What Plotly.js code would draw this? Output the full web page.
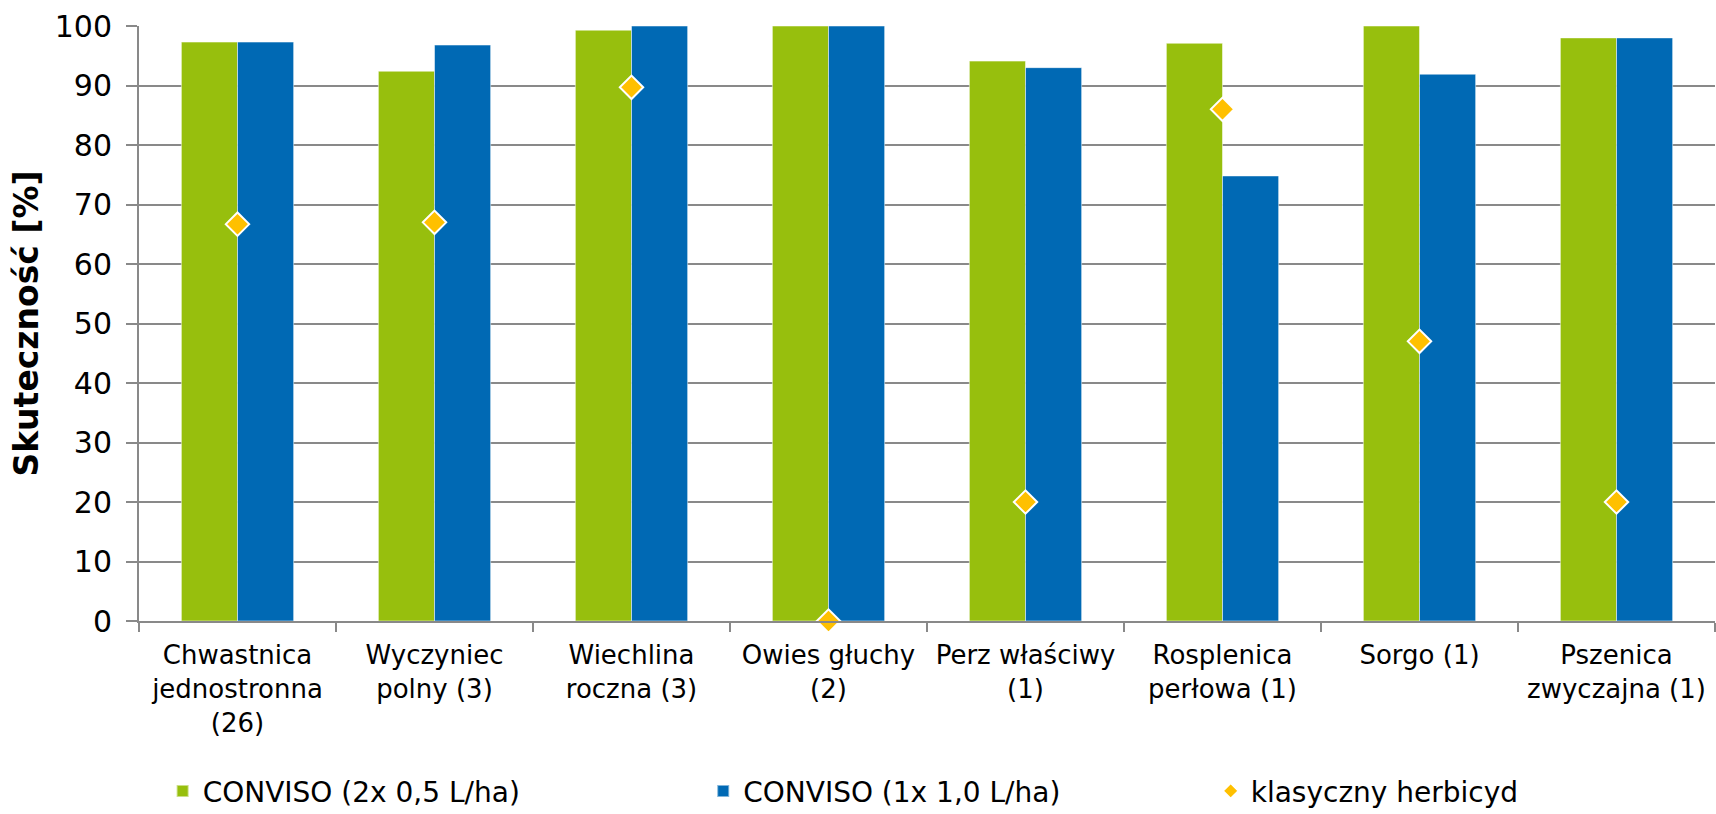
<!DOCTYPE html>
<html>
<head>
<meta charset="utf-8">
<script src="https://cdn.plot.ly/plotly-3.0.1.min.js"></script>
<style>html,body{margin:0;padding:0;background:#fff;}#chart{width:1716px;height:814px;}</style>
</head>
<body>
<div id="chart"></div>
<script>
var categories = [
  "Chwastnica<br>jednostronna<br>(26)",
  "Wyczyniec<br>polny (3)",
  "Wiechlina<br>roczna (3)",
  "Owies głuchy<br>(2)",
  "Perz właściwy<br>(1)",
  "Rosplenica<br>perłowa (1)",
  "Sorgo (1)",
  "Pszenica<br>zwyczajna (1)"
];
var conviso2x = [97.3, 92.4, 99.3, 100, 94.1, 97.1, 100, 98.0];
var conviso1x = [97.3, 96.8, 100, 100, 93.0, 74.8, 91.9, 98.0];
var klasyczny = [66.7, 67.0, 89.7, 0, 20, 86, 47, 20];
var seriesNames = ["CONVISO (2x 0,5 L/ha)", "CONVISO (1x 1,0 L/ha)", "klasyczny herbicyd"];
var yTicks = [0, 10, 20, 30, 40, 50, 60, 70, 80, 90, 100];

var font = "DejaVu Sans, Verdana, sans-serif";
var traces = [
  {type: "bar", name: seriesNames[0], x: categories, y: conviso2x, legend: "legend",
   marker: {color: "#97BF0D", line: {color: "rgba(255,255,255,0.5)", width: 1}}},
  {type: "bar", name: seriesNames[1], x: categories, y: conviso1x, legend: "legend2",
   marker: {color: "#0069B4", line: {color: "rgba(255,255,255,0.5)", width: 1}}},
  {type: "scatter", mode: "markers", name: seriesNames[2], x: categories, y: klasyczny, legend: "legend3",
   marker: {symbol: "diamond", color: "#FFC000", size: 18, line: {color: "#ffffff", width: 2}},
   cliponaxis: false}
];
function leg(x) {
  return {orientation: "h", x: x, xanchor: "left", yref: "container", y: 0.028, yanchor: "middle",
          font: {family: font, size: 28, color: "#000"}, itemsizing: "constant", bgcolor: "rgba(0,0,0,0)"};
}
var layout = {
  width: 1716, height: 814,
  margin: {l: 139, r: 1, t: 26, b: 193, pad: 0},
  paper_bgcolor: "#fff", plot_bgcolor: "#fff",
  font: {family: font, color: "#000", size: 26},
  barmode: "group", bargap: 0.43, bargroupgap: 0,
  showlegend: true,
  legend: leg(0.015), legend2: leg(0.358), legend3: leg(0.68),
  xaxis: {type: "category", tickson: "boundaries", ticks: "outside", ticklen: 9, tickwidth: 2, tickcolor: "#898989",
          showline: true, linecolor: "#898989", linewidth: 2, showgrid: false, automargin: false,
          tickfont: {family: font, size: 26, color: "#000"}, ticklabelstandoff: 10},
  yaxis: {range: [0, 100], tickvals: yTicks, ticks: "outside", ticklen: 11, tickwidth: 2, tickcolor: "#898989",
          showline: true, linecolor: "#898989", linewidth: 2, showgrid: true, gridcolor: "#898989", gridwidth: 2,
          zeroline: false, automargin: false, ticklabelstandoff: 8,
          tickfont: {family: font, size: 30, color: "#000"},
          title: {text: "<b>Skuteczność [%]</b>", font: {family: font, size: 33, color: "#000"}, standoff: 6}}
};
Plotly.newPlot("chart", traces, layout, {staticPlot: true, displayModeBar: false});
</script>
</body>
</html>
